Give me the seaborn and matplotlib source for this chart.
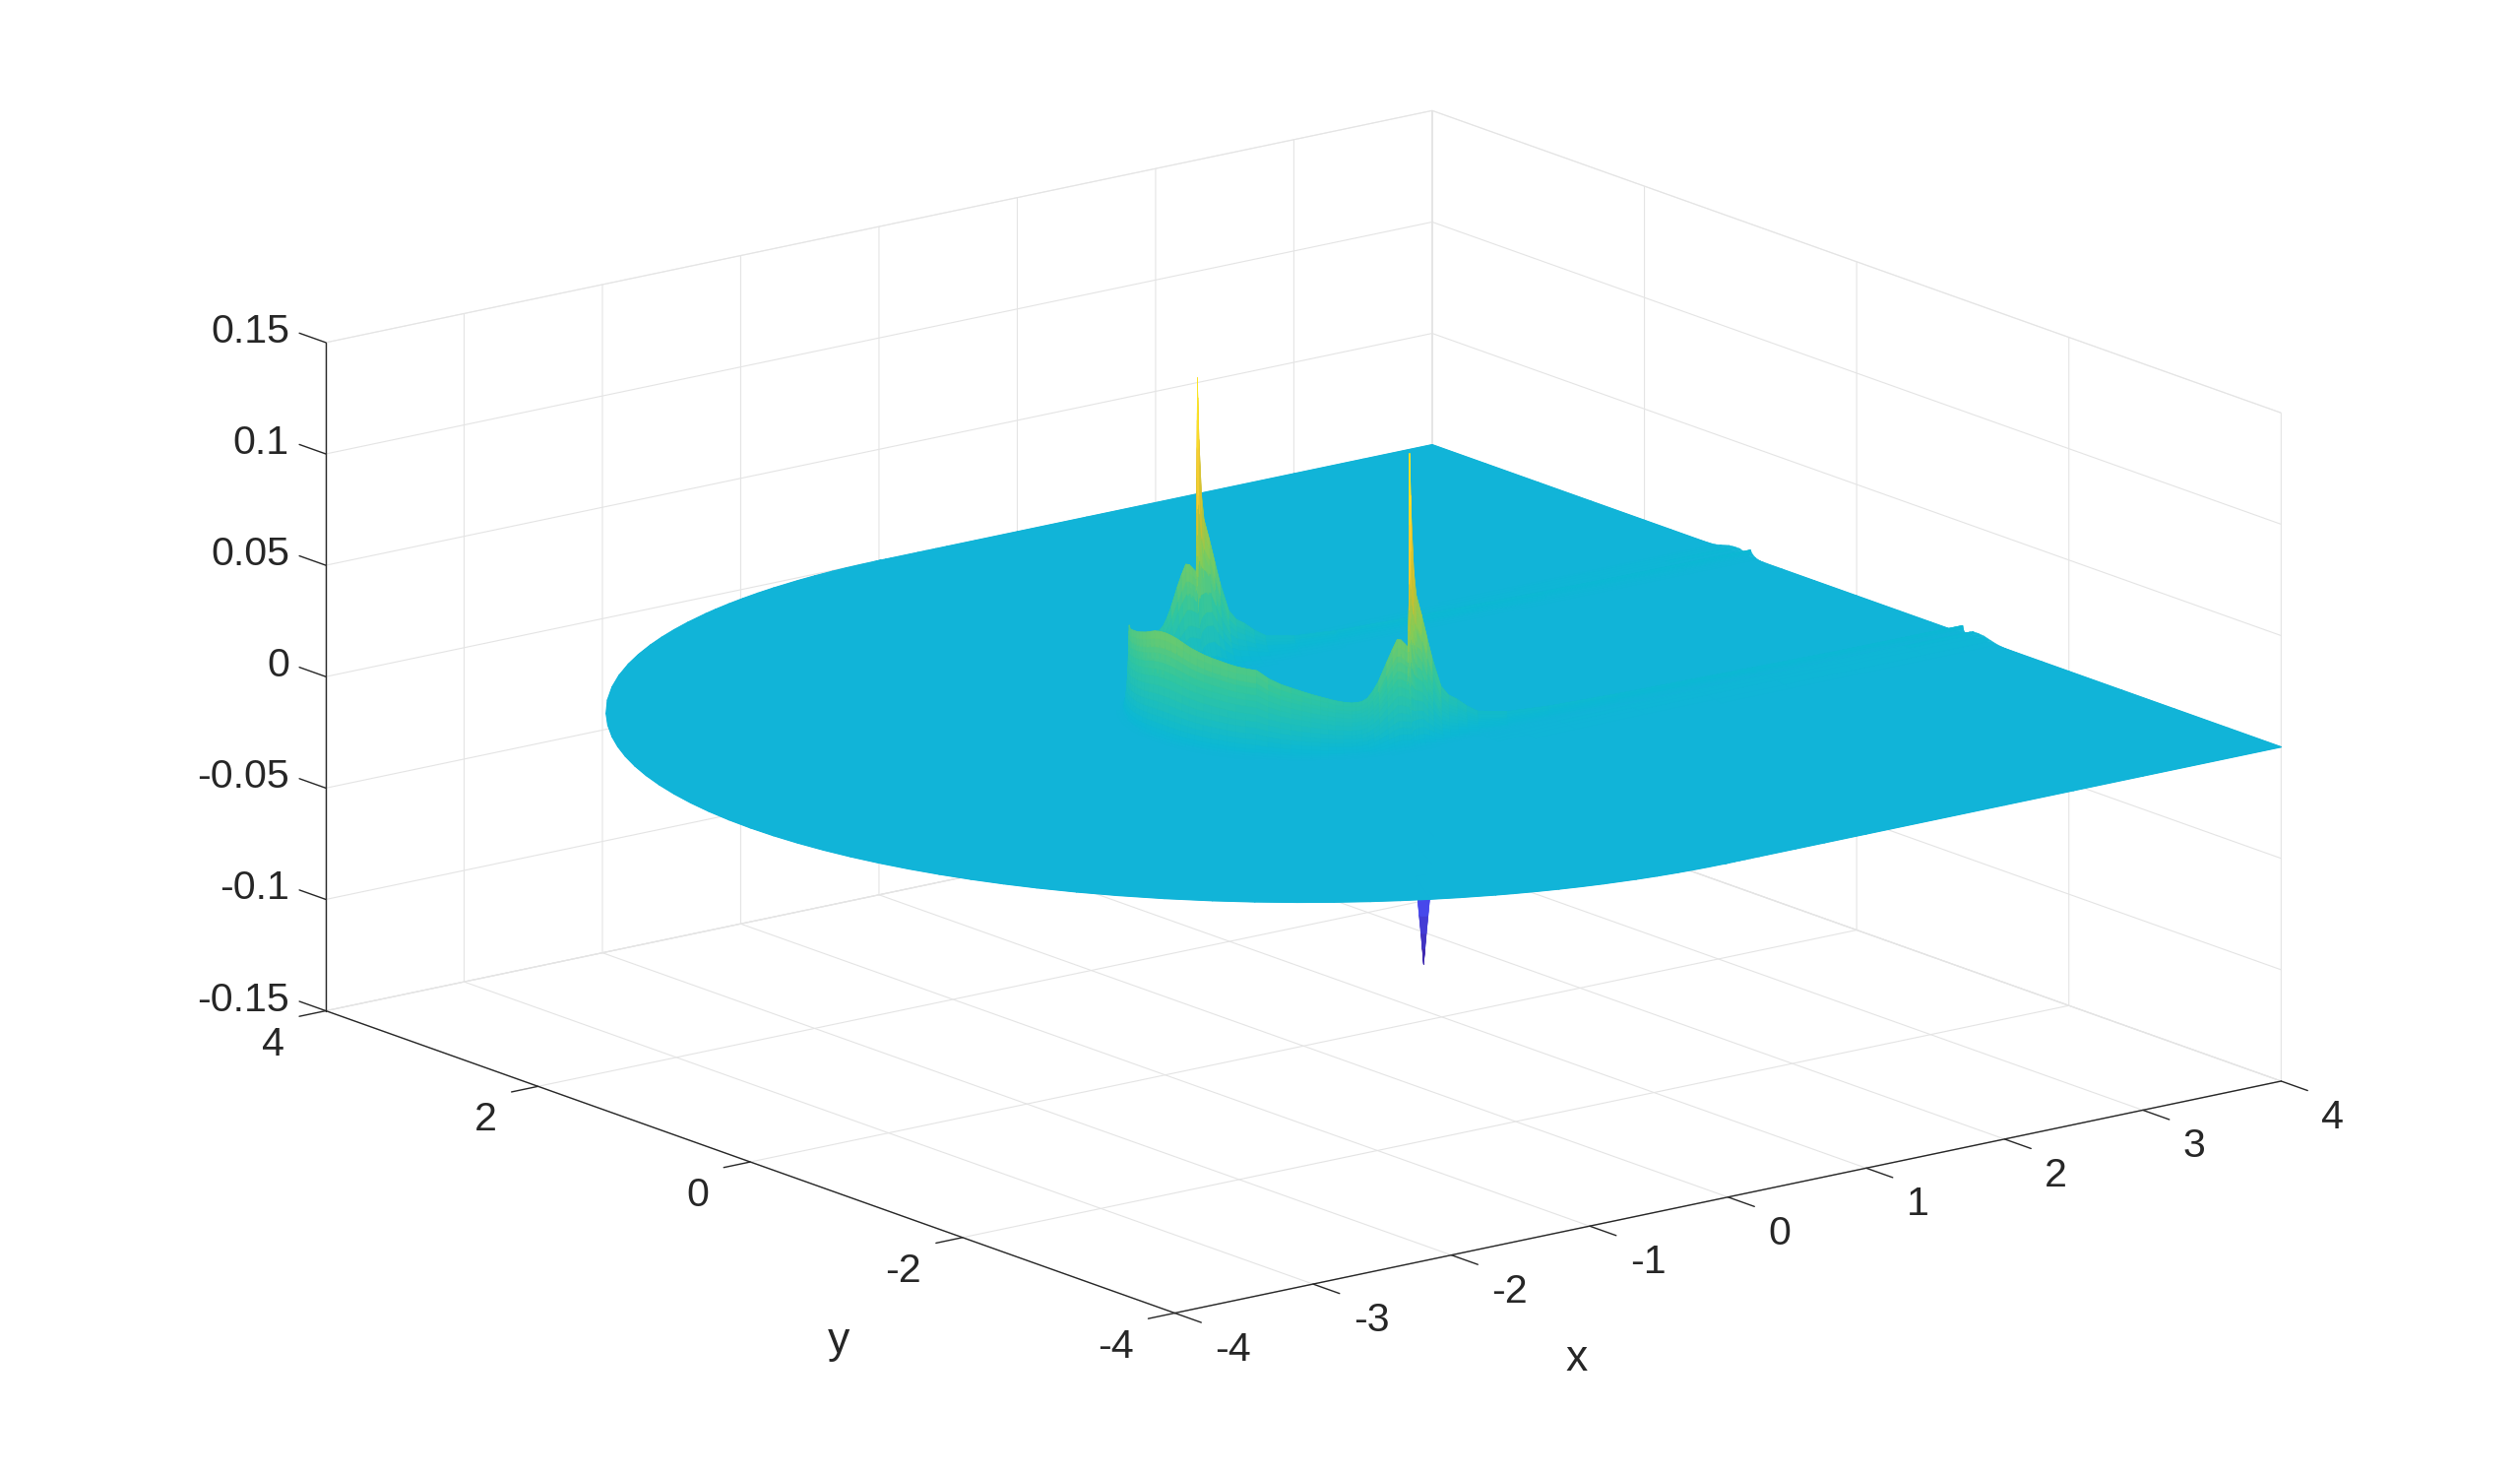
import numpy as np
import seaborn as sns
import matplotlib
matplotlib.use("Agg")
import matplotlib.pyplot as plt
from matplotlib.colors import Normalize
from mpl_toolkits.mplot3d import proj3d

# alturas: contorno interno (arco e retas y = +-1)
arc_alpha = [0, 3, 6, 9, 12, 15, 18, 21, 24, 27, 30, 33.5, 37, 41, 45, 48.5, 52, 55, 58, 60.5, 63, 65.5, 68.5,
             70, 72, 74, 76, 78, 81, 83, 85, 86.5, 88, 89.5, 89.7, 89.8, 89.88, 89.95, 90]
arc_height = [0.0485, 0.0482, 0.0475, 0.0463, 0.045, 0.044, 0.043, 0.0422, 0.0415, 0.0407, 0.04, 0.0395,
              0.0391, 0.0358, 0.0335, 0.032, 0.0305, 0.0292, 0.028, 0.027, 0.026, 0.0252, 0.0245,
              0.0245, 0.0247, 0.026, 0.029, 0.033, 0.041, 0.046, 0.0505, 0.05, 0.048, 0.046,
              0.046, 0.046, 0.047, 0.049, 0.05]
# agulha no canto (0, +-1), acima da crista
arc_needle = [0, 0, 0, 0, 0, 0, 0, 0, 0, 0, 0, 0, 0, 0, 0, 0, 0, 0, 0, 0, 0, 0, 0,
              0, 0, 0, 0, 0, 0, 0, 0, 0, 0, 0, 0.012, 0.028, 0.045, 0.065, 0.083]
line_x = [0.004, 0.008, 0.012, 0.03, 0.048, 0.087, 0.125, 0.163, 0.226, 0.28, 0.341, 0.41, 0.49, 0.7, 1, 1.5, 2, 2.5, 3, 3.5, 4]
line_height = [0.052, 0.054, 0.055, 0.058, 0.06, 0.0593, 0.049, 0.039, 0.0257, 0.021, 0.0183, 0.0145, 0.011, 0.008,
               0.0065, 0.0055, 0.005, 0.0045, 0.004, 0.0038, 0.0037]
line_needle = [0.072, 0.06, 0.05, 0.022, 0.0088, 0, 0, 0, 0, 0, 0, 0, 0, 0, 0, 0, 0, 0, 0, 0, 0]
# faixa baixa ao lado das retas
line_tail = [0, 0, 0, 0, 0, 0, 0, 0, 0, 0, 0, 0.0003, 0.0006, 0.001, 0.0014, 0.0018, 0.002, 0.0022, 0.0024, 0.0025, 0.0025]

# perfil transversal: distancia ao contorno -> fracao da altura
layer_d = [-1, -0.6, -0.3, -0.15, -0.12, -0.09, -0.07, -0.05, -0.035, -0.025, -0.015, -0.008, -0.004, 0,
           0.001, 0.002, 0.003, 0.004, 0.005, 0.006, 0.008, 0.01, 0.012, 0.015, 0.018, 0.022, 0.026, 0.03,
           0.036, 0.045, 0.05, 0.07, 0.08, 0.1, 0.15, 0.2, 0.27, 0.33, 0.4, 0.5, 0.75, 1, 1.5, 2, 2.5, 3]
layer_frac = [0, 0, 0, 0, 0.03, 0.08, 0.14, 0.24, 0.36, 0.46, 0.6, 0.74, 0.85, 1,
              0.93, 0.87, 0.8, 0.72, 0.65, 0.58, 0.5, 0.42, 0.35, 0.28, 0.22, 0.16, 0.11, 0.075,
              0.045, 0.025, 0.02, 0.015, 0.012, 0.01, 0.008, 0.006, 0.004, 0.003, 0.001, 0, 0, 0, 0, 0, 0, 0]
needle_frac = [0, 0, 0, 0, 0, 0, 0, 0, 0, 0, 0.05, 0.2, 0.5, 1,
               0.85, 0.7, 0.6, 0.5, 0.4, 0.3, 0.2, 0.12, 0.08, 0.05, 0.02, 0, 0, 0,
               0, 0, 0, 0, 0, 0, 0, 0, 0, 0, 0, 0, 0, 0, 0, 0, 0, 0]
tail_frac = [0, 0, 0, 0, 0, 0, 0, 0, 0, 0, 0, 0, 0, 0,
             0, 0, 0, 0, 0, 0, 0, 0, 0, 0, 0, 0, 0, 0.2,
             0.3, 0.45, 0.5, 0.75, 0.8, 1, 1, 0.9, 0.5, 0.2, 0.05, 0, 0, 0, 0, 0, 0, 0]

# pico para baixo, quase todo escondido pela superficie
spike_r = [0, 0.008, 0.016, 0.026, 0.037, 0.06]
spike_z = [-0.099, -0.092, -0.085, -0.077, -0.068, -0.04]
spike_angle = [0, 45, 90, 135, 180, 225, 270, 315, 360]
spike_x0 = 0.14
spike_y0 = -0.95

parula = ["#3e26a8", "#4747eb", "#3e6fff", "#2b9cf0", "#0cb8d4", "#31c69f", "#81cc59", "#ccbf30", "#fccf30", "#f9fb15"]
z_min = -0.099
z_max = 0.133

x_ticks = [-4, -3, -2, -1, 0, 1, 2, 3, 4]
y_ticks = [-4, -2, 0, 2, 4]
z_ticks = [-0.15, -0.1, -0.05, 0, 0.05, 0.1, 0.15]
x_labels = ["-4", "-3", "-2", "-1", "0", "1", "2", "3", "4"]
y_labels = ["-4", "-2", "0", "2", "4"]
z_labels = ["-0.15", "-0.1", "-0.05", "0", "0.05", "0.1", "0.15"]

sns.set_style("white")
plt.rcParams["font.family"] = ["Liberation Sans", "DejaVu Sans"]
plt.rcParams["xtick.major.width"] = 0.5
plt.rcParams["ytick.major.width"] = 0.5
plt.rcParams["xtick.color"] = "#262626"
plt.rcParams["ytick.color"] = "#262626"
plt.rcParams["grid.color"] = "#e4e4e4"
plt.rcParams["grid.linewidth"] = 0.4

# malha: reta y=+1, arco, reta y=-1
d = np.array(layer_d)
lx = np.array(line_x)
alpha = np.array(arc_alpha)
theta = np.radians(np.concatenate([alpha[::-1] * -1 + 180, alpha[1:] + 180]))
arc_h = np.concatenate([arc_height[::-1], arc_height[1:]])
arc_n = np.concatenate([arc_needle[::-1], arc_needle[1:]])
arc_t = np.zeros(len(theta))

cx = np.concatenate([lx[::-1], np.zeros(len(theta)), lx])
dir_x = np.concatenate([0 * lx, np.cos(theta), 0 * lx])
dir_y = np.concatenate([0 * lx + 1, np.sin(theta), 0 * lx - 1])
h = np.concatenate([line_height[::-1], arc_h, line_height])
n = np.concatenate([line_needle[::-1], arc_n, line_needle])
t = np.concatenate([line_tail[::-1], arc_t, line_tail])

X = cx[:, None] + dir_x[:, None] * (1 + d[None, :])
Y = dir_y[:, None] * (1 + d[None, :])
Z = np.outer(h, layer_frac) + np.outer(n, needle_frac) + np.outer(t, tail_frac)

cmap = sns.blend_palette(parula, n_colors=256, as_cmap=True)
norm = Normalize(z_min, z_max)


def cores(z):
    media = (z[:-1, :-1] + z[1:, :-1] + z[:-1, 1:] + z[1:, 1:]) / 4
    return cmap(norm(media))


fig = plt.figure(figsize=(12.8, 7.49), dpi=200)
ax = fig.add_subplot(projection="3d", computed_zorder=False)
ax.set_proj_type("ortho")
ax.view_init(elev=15.85, azim=-127.5)
ax.set_box_aspect((1, 1, 0.498))
ax.set_position([265.3 / 2560, -283.8 / 1498, 2062 / 2560, 2062 / 1498])

ang = np.radians(spike_angle)
sx = spike_x0 + np.outer(spike_r, np.cos(ang))
sy = spike_y0 + np.outer(spike_r, np.sin(ang))
sz = np.outer(spike_z, np.ones(len(ang)))
ax.plot_surface(sx, sy, sz, facecolors=cores(sz), shade=False, rstride=1, cstride=1, linewidth=0.2, zorder=1)
# placa plana por baixo, para nao aparecerem emendas entre os poligonos
ax.plot_surface(X, Y, 0 * Z, facecolors=cores(0 * Z), shade=False, rstride=1, cstride=1, linewidth=0.5, zorder=1.5)
ax.plot_surface(X, Y, Z, facecolors=cores(Z), shade=False, rstride=1, cstride=1, linewidth=0.2, zorder=2)

ax.set_xlim(-4, 4, view_margin=0)
ax.set_ylim(-4, 4, view_margin=0)
ax.set_zlim(-0.15, 0.15, view_margin=0)
ax.set_xticks(x_ticks)
ax.set_yticks(y_ticks)
ax.set_zticks(z_ticks)
ax.set_xticklabels([])
ax.set_yticklabels([])
ax.set_zticklabels([])

for axis, fora, dentro in [(ax.xaxis, 0, 0.39), (ax.yaxis, 0, 0.3), (ax.zaxis, 0.39, 0)]:
    axis.pane.set_facecolor((1, 1, 1, 0))
    axis.pane.set_edgecolor("#dcdcdc")
    axis.pane.set_linewidth(0.4)
    axis.line.set_color("#262626")
    axis.line.set_linewidth(0.5)
    axis._axinfo["tick"]["outward_factor"] = fora
    axis._axinfo["tick"]["inward_factor"] = dentro
ax.zaxis._get_tickdir = lambda *a: 1  # marcas do eixo z na direcao de y


def rotulo(texto, x, y, z, dx, dy, ha, tam=14.8):
    px, py, _ = proj3d.proj_transform(x, y, z, ax.get_proj())
    ax.annotate(texto, (px, py), xytext=(dx, dy), textcoords="offset pixels", ha=ha, va="center",
                fontsize=tam, color="#262626", annotation_clip=False)


for v, s in zip(x_ticks, x_labels):
    rotulo(s, v, -4, -0.15, 41, -37, "left")
for v, s in zip(y_ticks, y_labels):
    rotulo(s, -4, v, -0.15, -42, -34, "right")
for v, s in zip(z_ticks, z_labels):
    rotulo(s, -4, 4, v, -37, 11, "right")
rotulo("x", 0, -4, -0.15, -154, -165, "center", 16)
rotulo("y", -4, 0, -0.15, 90, -182, "center", 16)

fig.savefig("out.png", dpi=200)
